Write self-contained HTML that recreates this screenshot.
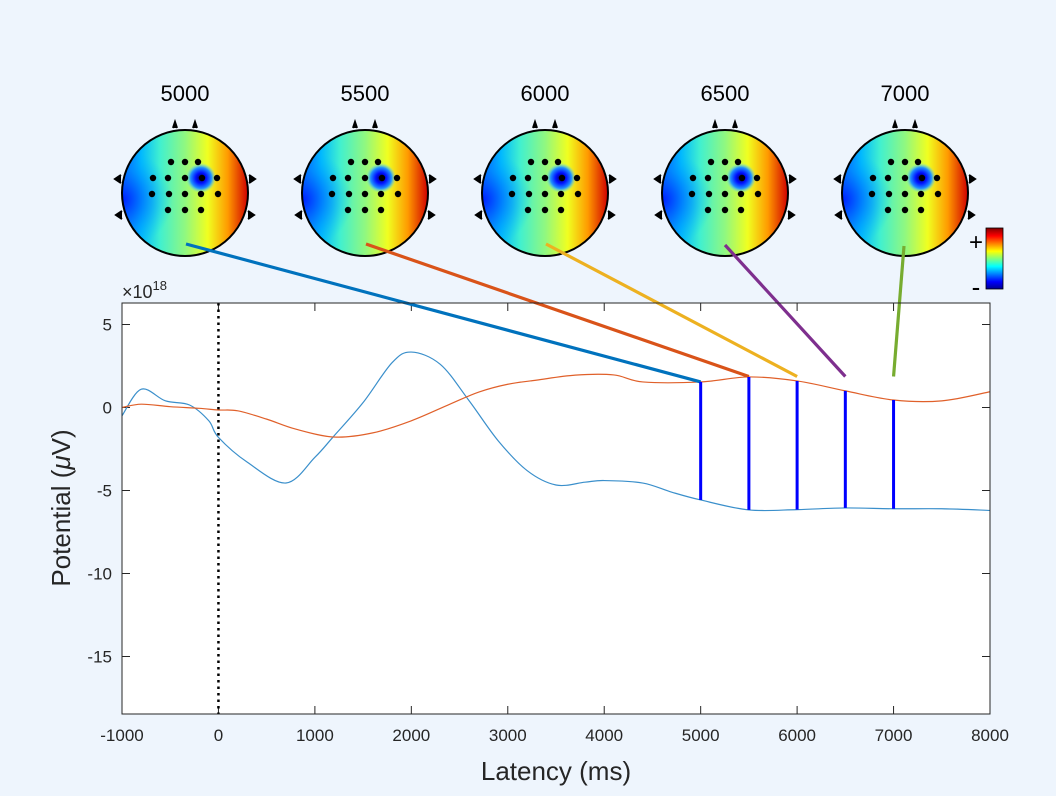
<!DOCTYPE html>
<html><head><meta charset="utf-8"><style>
html,body{margin:0;padding:0;background:#EEF5FD;}
svg{display:block;font-family:"Liberation Sans",sans-serif;}
</style></head><body>
<svg id="chart" width="1056" height="796" viewBox="0 0 1056 796">
<defs>
<linearGradient id="jetH" x1="0" y1="0" x2="1" y2="0">
<stop offset="0" stop-color="#0a40ff"/><stop offset="0.15" stop-color="#00b8ff"/><stop offset="0.3" stop-color="#40f0d0"/><stop offset="0.5" stop-color="#90f880"/><stop offset="0.68" stop-color="#f0ff20"/><stop offset="0.84" stop-color="#ff9a00"/><stop offset="1" stop-color="#d00000"/>
</linearGradient>
<radialGradient id="blueL" cx="0" cy="0.55" r="0.4">
<stop offset="0" stop-color="#0020ff" stop-opacity="1"/><stop offset="0.6" stop-color="#0090ff" stop-opacity="0.6"/><stop offset="1" stop-color="#00c0ff" stop-opacity="0"/>
</radialGradient>
<radialGradient id="blob">
<stop offset="0" stop-color="#000060"/><stop offset="0.35" stop-color="#0010ff"/><stop offset="0.7" stop-color="#2090ff"/><stop offset="1" stop-color="#60e0ff" stop-opacity="0"/>
</radialGradient>
<linearGradient id="jetV" x1="0" y1="1" x2="0" y2="0">
<stop offset="0" stop-color="#00008f"/><stop offset="0.12" stop-color="#0000ff"/><stop offset="0.37" stop-color="#00ffff"/><stop offset="0.62" stop-color="#ffff00"/><stop offset="0.87" stop-color="#ff0000"/><stop offset="1" stop-color="#800000"/>
</linearGradient>
</defs>
<g id="heads"></g>
<g>
<rect x="986" y="228" width="17" height="61" fill="url(#jetV)" stroke="#000" stroke-width="0.8"/>
<text x="976" y="250" font-size="24" text-anchor="middle">+</text>
<text x="976" y="296" font-size="26" text-anchor="middle">-</text>
</g>
<rect x="122" y="303" width="868" height="411" fill="#fff"/>
<g id="axes"></g>
<g id="series"></g>
<rect x="122" y="303" width="868" height="411" fill="none" stroke="#262626" stroke-width="1"/>
<text x="122" y="298" font-size="18" fill="#262626">×10<tspan dy="-8" font-size="13">18</tspan></text>
<text x="556" y="780" font-size="26" text-anchor="middle" fill="#262626">Latency (ms)</text>
<text transform="translate(70,508) rotate(-90)" font-size="26" text-anchor="middle" fill="#262626">Potential (<tspan font-style="italic">μ</tspan>V)</text>
</svg>
<script>
const xTicks=[-1000,0,1000,2000,3000,4000,5000,6000,7000,8000];
const yTicks=[5,0,-5,-10,-15];
const blueX=[-1000,-800,-550,-300,-100,0,300,700,1000,1188,1500,1800,2000,2300,2600,2900,3200,3500,3800,4000,4400,4700,5000,5500,6000,6500,7000,7500,8000];
const blueY=[-0.5,1.1,0.4,0.15,-0.8,-1.8,-3.3,-4.55,-3.0,-1.78,0.3,2.7,3.34,2.6,0.4,-2.0,-3.8,-4.67,-4.5,-4.4,-4.55,-5.1,-5.57,-6.17,-6.15,-6.05,-6.1,-6.1,-6.2];
const redX=[-1000,-800,-500,-200,0,200,500,800,1200,1600,2000,2400,2700,3000,3300,3700,4100,4400,5000,5500,6000,6500,7000,7500,8000];
const redY=[0,0.2,0.05,-0.05,-0.15,-0.2,-0.7,-1.3,-1.78,-1.53,-0.8,0.2,0.93,1.4,1.65,1.95,1.96,1.54,1.54,1.84,1.6,1.0,0.45,0.4,0.95];
const topoTimes=[5000,5500,6000,6500,7000];
const topoColors=['#0072BD','#D95319','#EDB120','#7E2F8E','#77AC30'];
const NS='http://www.w3.org/2000/svg';
const sx=v=>122+(v+1000)*868/9000;
const sy=v=>407.5-v*16.6;
function mk(tag,attrs,parent){const e=document.createElementNS(NS,tag);for(const k in attrs)e.setAttribute(k,attrs[k]);parent.appendChild(e);return e;}
const axes=document.getElementById('axes'),series=document.getElementById('series'),heads=document.getElementById('heads');
xTicks.forEach(t=>{const x=sx(t);
 const l=mk('path',{d:`M${x},714V706M${x},303V311`,stroke:'#262626','stroke-width':1},axes);
 
 
 const tx=mk('text',{x:x,y:741,'font-size':17,'text-anchor':'middle',fill:'#262626'},axes);tx.textContent=t;
 
 
});
yTicks.forEach(t=>{const y=sy(t);
 const l=mk('path',{d:`M122,${y}H130M990,${y}H982`,stroke:'#262626','stroke-width':1},axes);
 
 
 const tx=mk('text',{x:112,y:y+6,'font-size':17,'text-anchor':'end',fill:'#262626'},axes);tx.textContent=t;
 
 
});
const zl=mk('line',{x1:sx(0),x2:sx(0),y1:303,y2:714,stroke:'#000','stroke-width':2.5,'stroke-dasharray':'2.5,4'},series);


function interp(xs,ys,t){for(let i=0;i<xs.length-1;i++){if(t>=xs[i]&&t<=xs[i+1]){return ys[i]+(ys[i+1]-ys[i])*(t-xs[i])/(xs[i+1]-xs[i]);}}return ys[ys.length-1];}
function smooth(xs,ys){const p=xs.map((x,i)=>[sx(x),sy(ys[i])]);let d=`M${p[0][0]},${p[0][1]}`;
 for(let i=0;i<p.length-1;i++){const p0=p[Math.max(0,i-1)],p1=p[i],p2=p[i+1],p3=p[Math.min(p.length-1,i+2)];
 d+=`C${p1[0]+(p2[0]-p0[0])/6},${p1[1]+(p2[1]-p0[1])/6} ${p2[0]-(p3[0]-p1[0])/6},${p2[1]-(p3[1]-p1[1])/6} ${p2[0]},${p2[1]}`;}return d;}
const bl=mk('path',{d:smooth(blueX,blueY),fill:'none',stroke:'#3A8FCB','stroke-width':1.2},series);


const rl=mk('path',{d:smooth(redX,redY),fill:'none',stroke:'#E0602A','stroke-width':1.2},series);


const elec=[[-14,-31],[0,-31],[13,-31],[-32,-15],[-17,-15],[0,-15],[17,-15],[32,-15],[-33,1],[-16,1],[0,1],[16,1],[33,1],[-17,17],[0,17],[16,17]];
const endPts=[[186,244],[366,244],[546,244],[725,245],[904,246]];
topoTimes.forEach((t,i)=>{
 const cx=185+i*180,cy=193,r=63;
 const g=mk('g',{},heads);
 
 
 const tt=mk('text',{x:cx,y:101,'font-size':22,'text-anchor':'middle',fill:'#000'},g);tt.textContent=t;
 
 
 mk('path',{d:`M${cx-12},${cy-r-2}l2,-6l2,6M${cx+8},${cy-r-2}l2,-6l2,6M${cx-r-1},${cy-18}l-6,4l6,4M${cx-r},${cy+18}l-6,4l6,4M${cx+r+1},${cy-18}l6,4l-6,4M${cx+r},${cy+18}l6,4l-6,4`,fill:'#000',stroke:'#000','stroke-width':2},g);
 mk('circle',{cx,cy,r,fill:'url(#jetH)'},g);
 mk('circle',{cx,cy,r,fill:'url(#blueL)'},g);
 mk('circle',{cx:cx+16,cy:cy-15,r:15,fill:'url(#blob)'},g);
 mk('path',{d:`M${cx-55},${cy-30}Q${cx-30},${cy}${cx-50},${cy+40}M${cx-40},${cy-40}Q${cx-15},${cy+10}${cx-20},${cy+60}M${cx+30},${cy-55}Q${cx+45},${cy}${cx+25},${cy+60}M${cx+45},${cy-45}Q${cx+55},${cy}${cx+45},${cy+45}M${cx+10},${cy-45}Q${cx+40},${cy-20}${cx},${cy+20}Q${cx-20},${cy+40}${cx-30},${cy+60}`,fill:'none',stroke:'#333','stroke-width':0.8,opacity:0.7},g);
 mk('circle',{cx,cy,r,fill:'none',stroke:'#000','stroke-width':2},g);
 elec.forEach(e=>mk('circle',{cx:cx+e[0],cy:cy+e[1],r:3.2,fill:'#000'},g));
 const v=interp(redX,redY,t);
 const cl=mk('line',{x1:endPts[i][0],y1:endPts[i][1],x2:sx(t),y2:i===0?sy(v):Math.min(sy(v),376.5),stroke:topoColors[i],'stroke-width':3.2},series);
 
 
 const vl=mk('line',{x1:sx(t),x2:sx(t),y1:sy(v),y2:sy(interp(blueX,blueY,t)),stroke:'#0000FF','stroke-width':3},series);
 
 
});
</script>
</body></html>
